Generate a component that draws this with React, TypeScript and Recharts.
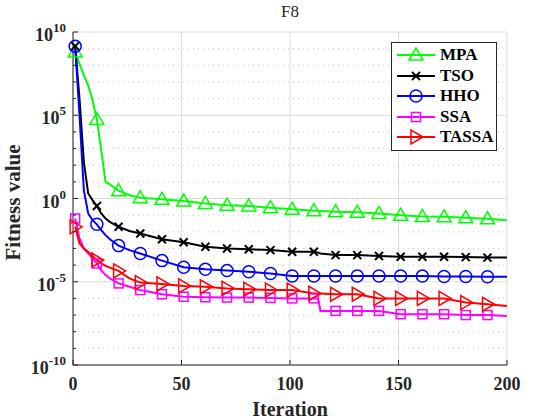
import React from "react";
import {
  LineChart, Line, XAxis, YAxis, CartesianGrid, ReferenceLine,
} from "recharts";

const iterations = [1, 3, 5, 7, 9, 11, 13, 15, 17, 21, 26, 31, 41, 51, 61, 71, 81, 91, 101, 111, 113, 114, 121, 131, 141, 151, 161, 171, 181, 191, 200];

// log10 of the fitness value for each algorithm
const mpaExp = [8.8, 8.1, 7.4, 6.8, 5.9, 4.75, 2.9, 1.0, 0.85, 0.47, 0.2, 0.05, -0.05, -0.15, -0.3, -0.4, -0.45, -0.55, -0.65, -0.73, -0.74, -0.75, -0.8, -0.83, -0.9, -1.0, -1.08, -1.1, -1.15, -1.22, -1.3];
const tsoExp = [9.15, 6.0, 2.2, 0.3, -0.1, -0.45, -0.9, -1.2, -1.4, -1.7, -1.95, -2.1, -2.45, -2.63, -2.9, -3.0, -3.05, -3.1, -3.2, -3.2, -3.25, -3.3, -3.4, -3.4, -3.45, -3.5, -3.5, -3.5, -3.52, -3.55, -3.55];
const hhoExp = [9.15, 5.0, 0.5, -0.9, -1.3, -1.55, -1.9, -2.2, -2.45, -2.83, -3.1, -3.3, -3.73, -4.13, -4.25, -4.33, -4.4, -4.5, -4.65, -4.65, -4.65, -4.65, -4.65, -4.65, -4.65, -4.65, -4.66, -4.68, -4.68, -4.7, -4.7];
const ssaExp = [-1.2, -2.4, -3.0, -3.3, -3.6, -3.9, -4.3, -4.6, -4.8, -5.1, -5.3, -5.5, -5.75, -5.9, -5.93, -5.95, -5.95, -5.97, -6.0, -6.0, -6.0, -6.75, -6.75, -6.75, -6.75, -6.95, -6.95, -6.95, -7.0, -7.0, -7.05];
const tassaExp = [-1.7, -2.7, -3.0, -3.2, -3.45, -3.7, -3.9, -4.05, -4.15, -4.35, -4.8, -5.05, -5.13, -5.25, -5.3, -5.4, -5.45, -5.5, -5.5, -5.7, -5.7, -5.7, -5.75, -5.75, -6.0, -6.0, -6.0, -6.0, -6.25, -6.35, -6.45];

const xTicks = [0, 50, 100, 150, 200];
const decades = [-10, -9, -8, -7, -6, -5, -4, -3, -2, -1, 0, 1, 2, 3, 4, 5, 6, 7, 8, 9, 10];
const yTicks = decades.map(d => Math.pow(10, d));

const series = [
  { key: "MPA", color: "#00ff00", shape: "triangle", exps: mpaExp },
  { key: "TSO", color: "#000000", shape: "cross", exps: tsoExp },
  { key: "HHO", color: "#0000ff", shape: "circle", exps: hhoExp },
  { key: "SSA", color: "#ff00ff", shape: "square", exps: ssaExp },
  { key: "TASSA", color: "#ff0000", shape: "right", exps: tassaExp },
];

const chartData = iterations.map((it, i) => {
  const row: any = { iter: it };
  series.forEach(s => { row[s.key] = Math.pow(10, s.exps[i]); });
  return row;
});

const FONT = '"Liberation Serif", "Times New Roman", serif';

function Marker({ shape, cx, cy, color }: { shape: string; cx: number; cy: number; color: string }) {
  const p = { fill: "none", stroke: color, strokeWidth: 1.5 };
  switch (shape) {
    case "triangle":
      return <polygon {...p} points={`${cx},${cy - 7} ${cx - 7},${cy + 5} ${cx + 7},${cy + 5}`} />;
    case "cross":
      return <g stroke={color} strokeWidth={2}><line x1={cx - 4} y1={cy - 4} x2={cx + 4} y2={cy + 4} /><line x1={cx - 4} y1={cy + 4} x2={cx + 4} y2={cy - 4} /></g>;
    case "circle":
      return <circle {...p} cx={cx} cy={cy} r={6} />;
    case "square":
      return <rect {...p} x={cx - 4.5} y={cy - 4.5} width={9} height={9} />;
    default:
      return <polygon {...p} points={`${cx + 7},${cy} ${cx - 5},${cy - 7} ${cx - 5},${cy + 7}`} />;
  }
}

const makeDot = (shape: string, color: string) => (props: any) => {
  const { cx, cy, payload, index } = props;
  if ((payload.iter - 1) % 10 !== 0) return <g key={index} />;
  return <g key={index}><Marker shape={shape} cx={cx} cy={cy} color={color} /></g>;
};

const XTick = (props: any) => {
  const { x, y, payload } = props;
  return (
    <g>
      <line x1={x} y1={y} x2={x} y2={y - 5} stroke="#262626" />
      <text x={x} y={y + 25} textAnchor="middle" fontFamily={FONT} fontWeight="bold" fontSize={18} fill="#262626">{payload.value}</text>
    </g>
  );
};

const XTopTick = (props: any) => {
  const { x, y } = props;
  return <line x1={x} y1={y} x2={x} y2={y + 5} stroke="#262626" />;
};

const YTick = (props: any) => {
  const { x, y, payload } = props;
  const e = Math.round(Math.log10(payload.value));
  const major = e % 5 === 0;
  return (
    <g>
      <line x1={x} y1={y} x2={x + (major ? 5 : 3)} y2={y} stroke="#262626" />
      {major && (
        <text x={x - 7} y={y + 9} textAnchor="end" fontFamily={FONT} fontWeight="bold" fontSize={18} fill="#262626">
          10<tspan dy={-9} fontSize={13}>{e}</tspan>
        </text>
      )}
    </g>
  );
};

const YRightTick = (props: any) => {
  const { x, y, payload } = props;
  const e = Math.round(Math.log10(payload.value));
  const major = e % 5 === 0;
  return <line x1={x} y1={y} x2={x - (major ? 5 : 3)} y2={y} stroke="#262626" />;
};

const LegendBox = () => (
  <div style={{ position: "absolute", left: 391, top: 42, border: "1px solid #262626", background: "#fff", width: 106, padding: "2px 0", boxSizing: "border-box" }}>
    {series.map(s => (
      <div key={s.key} style={{ display: "flex", alignItems: "center", height: 20.5 }}>
        <svg width={44} height={18} style={{ marginLeft: 3 }}>
          <line x1={2} y1={9} x2={40} y2={9} stroke={s.color} strokeWidth={2} />
          <Marker shape={s.shape} cx={21} cy={9} color={s.color} />
        </svg>
        <span style={{ fontFamily: FONT, fontWeight: "bold", fontSize: 17, color: "#000", marginLeft: 1 }}>{s.key}</span>
      </div>
    ))}
  </div>
);

export default function App() {
  return (
    <div style={{ position: "absolute", left: 0, top: 0, width: 560, height: 420, background: "#fff" }}>
      <div style={{ position: "absolute", left: 0, width: 580, top: 2, textAlign: "center", fontFamily: FONT, fontSize: 17, color: "#262626" }}>F8</div>
      <LineChart width={560} height={420} data={chartData} margin={{ top: 32, right: 53, left: 0, bottom: 0 }}>
        <CartesianGrid horizontal={false} stroke="#dcdcdc" strokeDasharray="" />
        {decades.map(d => (
          <ReferenceLine
            key={d}
            y={Math.pow(10, d)}
            stroke={d % 5 === 0 ? "#dcdcdc" : "#c4c4c4"}
            strokeDasharray={d % 5 === 0 ? undefined : "1 4"}
          />
        ))}
        <XAxis
          dataKey="iter"
          type="number"
          domain={[0, 200]}
          ticks={xTicks}
          height={55}
          tickSize={0}
          tickMargin={0}
          tickLine={false}
          axisLine={{ stroke: "#262626" }}
          tick={<XTick />}
          label={{ value: "Iteration", position: "insideBottom", offset: 4, style: { fontFamily: FONT, fontWeight: "bold", fontSize: 20, fill: "#262626" } }}
        />
        <XAxis
          xAxisId="top"
          orientation="top"
          dataKey="iter"
          type="number"
          domain={[0, 200]}
          ticks={xTicks}
          height={0}
          tickSize={0}
          tickMargin={0}
          tickLine={false}
          axisLine={{ stroke: "#262626" }}
          tick={<XTopTick />}
        />
        <YAxis
          scale="log"
          type="number"
          domain={[1e-10, 1e10]}
          allowDataOverflow
          ticks={yTicks}
          interval={0}
          width={73}
          tickSize={0}
          tickMargin={0}
          tickLine={false}
          axisLine={{ stroke: "#262626" }}
          tick={<YTick />}
          label={(props: any) => {
            const vb = props.viewBox;
            const cx = vb.x + 13;
            const cy = vb.y + vb.height / 2 + 4;
            return (
              <text x={cx} y={cy} transform={`rotate(-90 ${cx} ${cy})`} textAnchor="middle" dominantBaseline="central" fontFamily={FONT} fontWeight="bold" fontSize={21} fill="#262626">
                Fitness value
              </text>
            );
          }}
        />
        <YAxis
          yAxisId="r"
          orientation="right"
          scale="log"
          type="number"
          domain={[1e-10, 1e10]}
          allowDataOverflow
          ticks={yTicks}
          interval={0}
          width={0}
          tickSize={0}
          tickMargin={0}
          tickLine={false}
          axisLine={{ stroke: "#262626" }}
          tick={<YRightTick />}
        />
        {series.map(s => (
          <Line
            key={s.key}
            dataKey={s.key}
            name={s.key}
            type="linear"
            stroke={s.color}
            strokeWidth={2}
            dot={makeDot(s.shape, s.color)}
            activeDot={false}
            isAnimationActive={false}
          />
        ))}
      </LineChart>
      <LegendBox />
    </div>
  );
}
